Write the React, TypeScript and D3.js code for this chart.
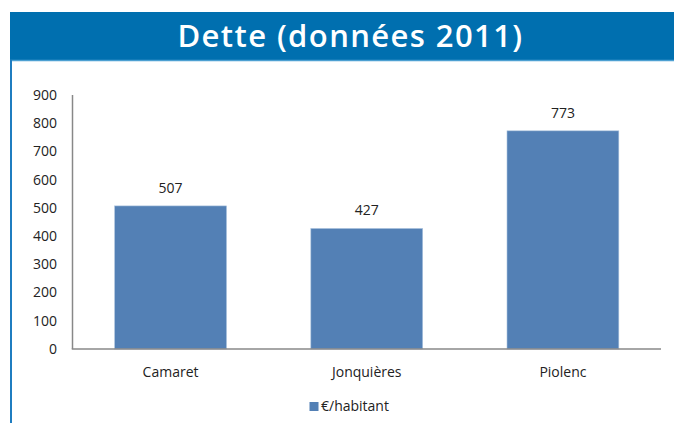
import React from "react";
import * as d3 from "d3";

const categories = ["Camaret", "Jonquières", "Piolenc"];
const values = [507, 427, 773];
const yTicks = [0, 100, 200, 300, 400, 500, 600, 700, 800, 900];
const seriesName = "€/habitant";
const title = "Dette (données 2011)";

export default function App() {
  const W = 674, H = 427;
  const x0 = 72.5, x1 = 661, y0 = 349, yTop = 95;
  const x = d3.scaleBand<string>().domain(categories).range([x0, x1]).paddingInner(0.43).paddingOuter(0.215);
  const y = d3.scaleLinear().domain([0, 900]).range([y0, yTop]);
  const font = "'Open Sans', 'DejaVu Sans', sans-serif";
  const fs = 14;
  return (
    <svg width={W} height={H} style={{ position: "absolute", left: 0, top: 0, display: "block" }}>
      <rect x={0} y={0} width={W} height={H} fill="#fff" />
      <rect x={10} y={12} width={W - 10} height={48} fill="#006faf" />
      <line x1={10} x2={W} y1={60.5} y2={60.5} stroke="#4da0d2" strokeWidth={1.5} />
      <line x1={11} x2={11} y1={60} y2={423} stroke="#1f7dc0" strokeWidth={2} />
      <text x={350.5} y={47} textAnchor="middle" fill="#fff" fontFamily={font} fontWeight={600} fontSize={31} letterSpacing={1.4}>{title}</text>
      {yTicks.map(t => (
        <text key={t} x={57} y={y(t)} dy="0.35em" textAnchor="end" fontFamily={font} fontSize={fs} fill="#222">{t}</text>
      ))}
      {categories.map((c, i) => (
        <g key={c}>
          <rect x={x(c)} y={y(values[i])} width={x.bandwidth()} height={y0 - y(values[i])} fill="#5380b5" stroke="#a8c0dd" strokeWidth={0.6} />
          <text x={x(c)! + x.bandwidth() / 2} y={y(values[i]) - 13} textAnchor="middle" fontFamily={font} fontSize={fs} fill="#222">{values[i]}</text>
          <text x={x(c)! + x.bandwidth() / 2} y={377} textAnchor="middle" fontFamily={font} fontSize={fs} fill="#222">{c}</text>
        </g>
      ))}
      <line x1={x0} x2={x0} y1={yTop} y2={y0} stroke="#888" strokeWidth={1.5} />
      <line x1={x0 - 0.75} x2={x1} y1={y0} y2={y0} stroke="#888" strokeWidth={1.5} />
      <rect x={309.5} y={402} width={9} height={9} fill="#5380b5" />
      <text x={321} y={411} fontFamily={font} fontSize={fs} fill="#222">{seriesName}</text>
    </svg>
  );
}
